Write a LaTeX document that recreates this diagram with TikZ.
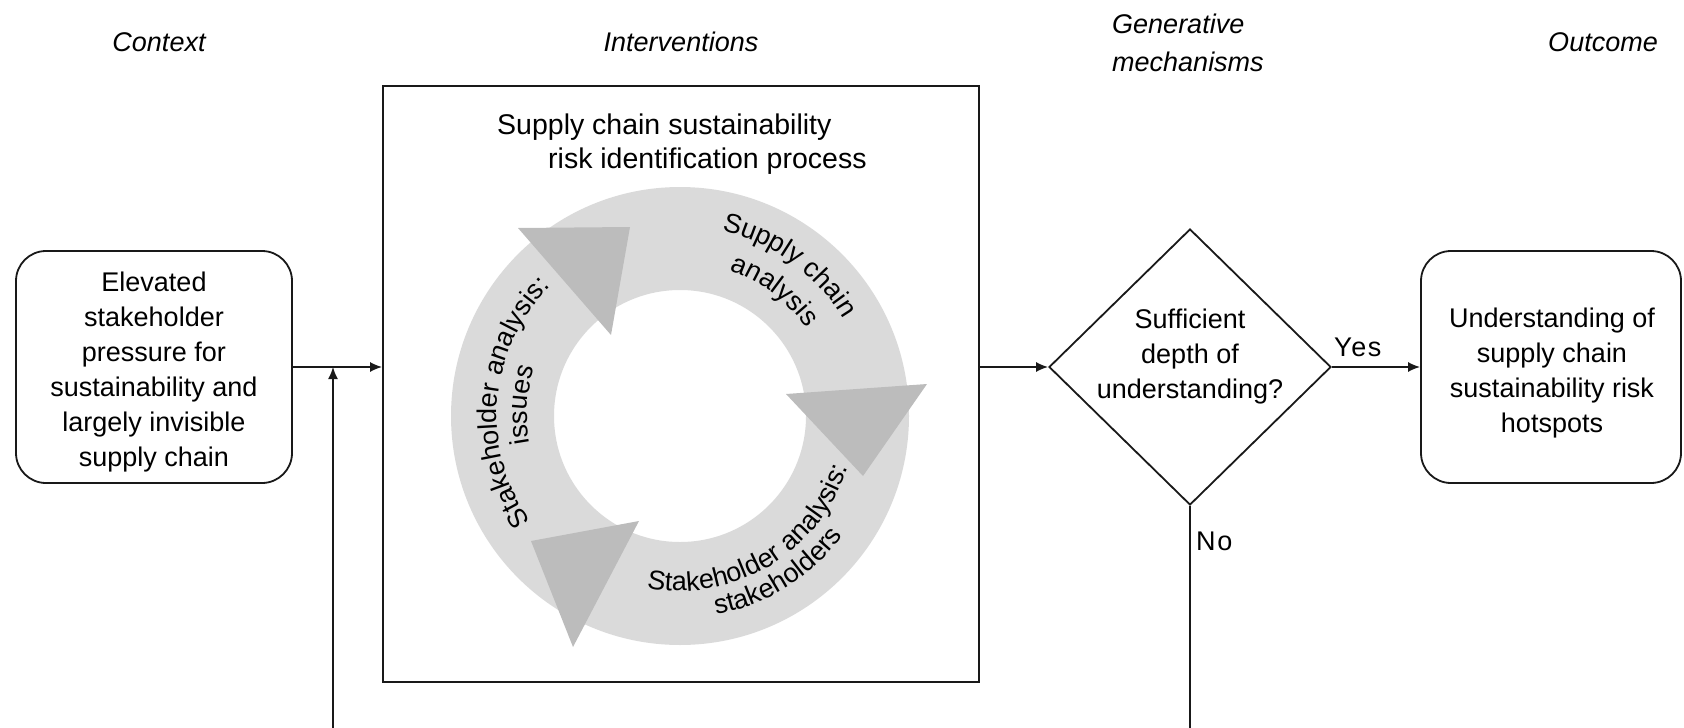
\documentclass[tikz,border=0pt]{standalone}
\usepackage{fontspec}
\setmainfont{Liberation Sans}
\usetikzlibrary{shapes.geometric,arrows.meta,decorations.text}
\definecolor{ringgray}{RGB}{218,218,218}
\definecolor{headgray}{RGB}{188,188,188}
\definecolor{linecol}{RGB}{25,25,25}
\newcommand\ringfont{\fontsize{27}{33}\selectfont}
\begin{document}
\begin{tikzpicture}[x=1pt,y=1pt,
  boxline/.style={draw=linecol, line width=1.8pt},
  roundbox/.style={boxline, rounded corners=30pt, inner sep=0pt},
  txt/.style={font=\fontsize{27}{35}\selectfont, align=center, inner sep=0pt},
  ttl/.style={font=\fontsize{28.5}{35}\selectfont, inner sep=0pt},
  head/.style={font=\fontsize{27}{35}\selectfont\itshape, inner sep=0pt},
  conn/.style={draw=linecol, line width=1.6pt, -{Latex[length=12pt,width=10pt]}},
  ringtxt/.style={decorate, decoration={text along path, text align=center, text={#1}}}
]
\useasboundingbox (0,0) rectangle (1684,-728);
\clip (0,0) rectangle (1684,-728);

% headings
\node[head, anchor=base] (hctx) at (159,-51) {Context};
\node[head, anchor=base] (hint) at (681,-51) {Interventions};
\node[head, anchor=base west] (hgen1) at (1112,-33) {Generative};
\node[head, anchor=base west] (hgen2) at (1112,-71) {mechanisms};
\node[head, anchor=base] (hout) at (1603,-51) {Outcome};

% main box
\node[boxline, minimum width=596pt, minimum height=596pt, inner sep=0pt] (main) at (681,-384) {};
\node[ttl, anchor=base west] (t1) at (497,-134) {Supply chain sustainability};
\node[ttl, anchor=base west] (t2) at (548,-168) {risk identification process};

% ring
\coordinate (C) at (680,-416);
\fill[ringgray, even odd rule] (C) circle[radius=229] (C) circle[radius=126];
\fill[headgray] (518,-228) -- (630,-227) -- (611,-335) -- cycle;
\fill[headgray] (786,-394) -- (927,-384) -- (863,-476) -- cycle;
\fill[headgray] (531,-541) -- (639,-521) -- (573,-647) -- cycle;

% ring texts
\path[ringtxt={|\ringfont|Supply chain}] ([shift={(114:190)}]C) arc[start angle=114, end angle=-6, radius=190];
\path[ringtxt={|\ringfont|analysis}] ([shift={(113:154)}]C) arc[start angle=113, end angle=-7, radius=154];
\path[ringtxt={|\ringfont|Stakeholder analysis:}] ([shift={(245:183)}]C) arc[start angle=245, end angle=105, radius=183];
\path[ringtxt={|\ringfont|issues}] ([shift={(236:153)}]C) arc[start angle=236, end angle=116, radius=153];
\path[ringtxt={|\ringfont|Stakeholder analysis:}] ([shift={(231:175)}]C) arc[start angle=231, end angle=371, radius=175];
\path[ringtxt={|\ringfont|stakeholders}] ([shift={(242:202)}]C) arc[start angle=242, end angle=362, radius=202];

% context box
\node[roundbox, minimum width=276pt, minimum height=232pt] (ctx) at (154,-367) {};
\node[txt] (ctxt) at (154,-372)
  {Elevated\\stakeholder\\pressure for\\sustainability and\\largely invisible\\supply chain};

% decision
\node[diamond, boxline, minimum width=282pt, minimum height=276pt, inner sep=0pt] (dec) at (1190,-367) {};
\node[txt] (dect) at (1190,-357) {Sufficient\\depth of\\understanding?};

% outcome box
\node[roundbox, minimum width=260pt, minimum height=232pt] (out) at (1551,-367) {};
\node[txt] (outt) at (1552,-373) {Understanding of\\supply chain\\sustainability risk\\hotspots};

% connectors
\coordinate (fbj) at (333,-367);
\coordinate (fbl) at (333,-760);
\coordinate (fbr) at (1190,-760);
\draw[conn] (ctx.east) -- (ctx.east -| main.west);
\draw[conn] (main.east |- dec.west) -- (dec.west);
\draw[conn] (dec.east) -- (out.west);
\draw[conn] (dec.south) -- (fbr) -- (fbl) -- (fbj);

\node[txt, anchor=base west, font=\fontsize{27}{33}\selectfont\addfontfeature{LetterSpace=6}] (yes) at (1334,-356) {Yes};
\node[txt, anchor=base west, font=\fontsize{27}{33}\selectfont\addfontfeature{LetterSpace=6}] (no) at (1196,-550) {No};
\end{tikzpicture}
\end{document}
